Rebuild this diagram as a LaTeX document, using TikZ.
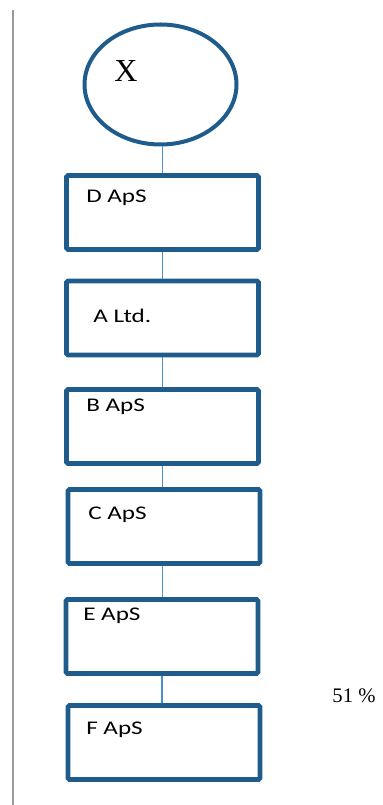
\documentclass[tikz,border=0pt]{standalone}
\usepackage{fontspec}
\setmainfont{Liberation Serif}
\newfontfamily\boxfont[FakeStretch=1.3]{Carlito}
\usetikzlibrary{shapes.geometric}
\definecolor{boxblue}{HTML}{1F5C8C}
\definecolor{linkblue}{HTML}{4A90D0}
\definecolor{sidegray}{HTML}{9A9A9A}
\tikzset{
  entity/.style={draw=boxblue, line width=3.6pt, rounded corners=1.2pt, rectangle,
    minimum width=144pt, minimum height=55.5pt, inner sep=0pt},
  owner/.style={draw=boxblue, line width=3pt, ellipse, minimum width=114pt,
    minimum height=90pt, inner sep=0pt},
  boxtext/.style={anchor=base west, inner sep=0pt, font=\boxfont\fontsize{14.5pt}{16pt}\selectfont},
  link/.style={draw=linkblue, line width=0.8pt}
}
\begin{document}
\begin{tikzpicture}[x=0.75pt,y=-0.75pt]
\useasboundingbox (0,0) rectangle (382,805);
\draw[sidegray, line width=1.5pt] (12.5,10) coordinate (top) -- (12.5,805) coordinate (bot);
\node[owner] (X) at (160.5,84.5) {};
\node[anchor=base, inner sep=0pt, font=\fontsize{24pt}{26pt}\selectfont] (Xt) at (126,82) {X};
\node[entity] (D) at (162.5,212.5) {};
\node[entity] (A) at (162.5,318) {};
\node[entity] (B) at (162.5,426.5) {};
\node[entity] (C) at (164,526.5) {};
\node[entity] (E) at (162,636.5) {};
\node[entity] (F) at (164,742.5) {};
\node[boxtext] (Dt) at (86,202.5) {D ApS};
\node[boxtext] (At) at (93,322) {A Ltd.};
\node[boxtext] (Bt) at (86,411.5) {B ApS};
\node[boxtext] (Ct) at (88,519) {C ApS};
\node[boxtext] (Et) at (83,620.5) {E ApS};
\node[boxtext] (Ft) at (86,734) {F ApS};
\node[anchor=base, inner sep=0pt, font=\fontsize{15.5pt}{17pt}\selectfont] (pct) at (354,702) {51 \%};
\draw[link] (D.north |- X.south) -- (D.north);
\draw[link] (D.south) -- (A.north);
\draw[link] (A.south) -- (B.north);
\draw[link] (B.south) -- (B.south |- C.north);
\draw[link] (E.north -| B.south) -- (B.south |- C.south);
\draw[link] (E.south) -- (E.south |- F.north);
\end{tikzpicture}
\end{document}
